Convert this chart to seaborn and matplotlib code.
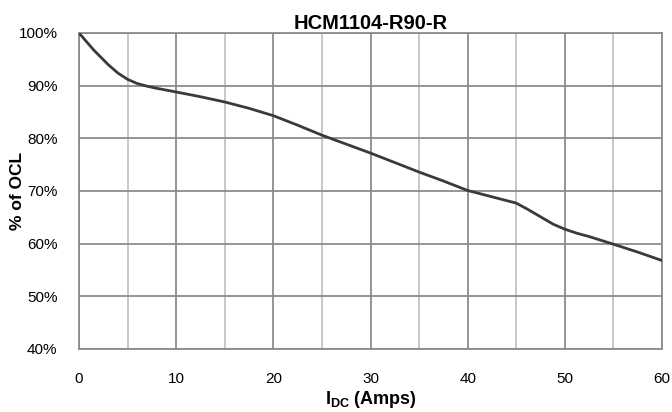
import matplotlib
matplotlib.use("Agg")
import matplotlib.pyplot as plt
import seaborn as sns
import pandas as pd
from matplotlib.ticker import MultipleLocator

# Data
current_amps = [0, 1.5, 3, 4, 5, 6, 7, 8, 10, 12.5, 15, 17.5, 20, 22.5, 25,
                27.5, 30, 32.5, 35, 37.5, 40, 42.5, 45, 46.2, 47.5, 48.8, 50,
                51.2, 52.5, 55, 57.5, 60]
pct_ocl = [100, 96.8, 94.0, 92.4, 91.2, 90.4, 89.9, 89.5, 88.8, 87.9, 86.9,
           85.7, 84.3, 82.5, 80.6, 78.9, 77.2, 75.4, 73.6, 71.9, 70.1, 68.9,
           67.7, 66.5, 65.1, 63.7, 62.75, 62.0, 61.35, 59.9, 58.4, 56.8]
x_ticks = [0, 10, 20, 30, 40, 50, 60]
y_ticks = [40, 50, 60, 70, 80, 90, 100]
y_tick_labels = ["40%", "50%", "60%", "70%", "80%", "90%", "100%"]
title = "HCM1104-R90-R"

df = pd.DataFrame({"I": current_amps, "OCL": pct_ocl})

sns.set_theme(style="white")
plt.rcParams["font.family"] = ["Liberation Sans", "DejaVu Sans"]
plt.rcParams["mathtext.fontset"] = "custom"
plt.rcParams["mathtext.rm"] = "Liberation Sans"
plt.rcParams["mathtext.bf"] = "Liberation Sans:bold"
plt.rcParams["text.color"] = "black"
plt.rcParams["axes.labelcolor"] = "black"

fig = plt.figure(figsize=(6.72, 4.12), dpi=100)
ax = fig.add_axes([79/672, 1 - 349/412, (662 - 79)/672, (349 - 33)/412])

sns.lineplot(data=df, x="I", y="OCL", ax=ax, color="#3a3a3a", linewidth=2.0,
             zorder=5)

ax.set_xlim(0, 60)
ax.set_ylim(40, 100)
ax.set_xticks(x_ticks)
ax.set_xticklabels([str(v) for v in x_ticks])
ax.set_yticks(y_ticks)
ax.set_yticklabels(y_tick_labels)
ax.xaxis.set_minor_locator(MultipleLocator(5))

ax.grid(True, which="major", axis="both", color="#8c8c8c", linewidth=1.3)
ax.grid(True, which="minor", axis="x", color="#c4c4c4", linewidth=1.3)
ax.set_axisbelow(True)
for s in ax.spines.values():
    s.set_color("#8c8c8c")
    s.set_linewidth(1.3)

ax.tick_params(axis="both", which="both", length=0, labelsize=11,
               colors="black")
ax.tick_params(axis="x", pad=16.5)
ax.tick_params(axis="y", pad=15.5)

ax.set_title(title, fontsize=14.5, fontweight="bold", pad=3, color="black")
ax.set_ylabel("% of OCL", fontsize=12.5, fontweight="bold")
ax.yaxis.set_label_coords(-0.092, 0.5)
ax.set_xlabel(r"$\mathbf{I_{DC}}$ (Amps)", fontsize=13, fontweight="bold",
              labelpad=2)

fig.savefig("out.png", dpi=100)
